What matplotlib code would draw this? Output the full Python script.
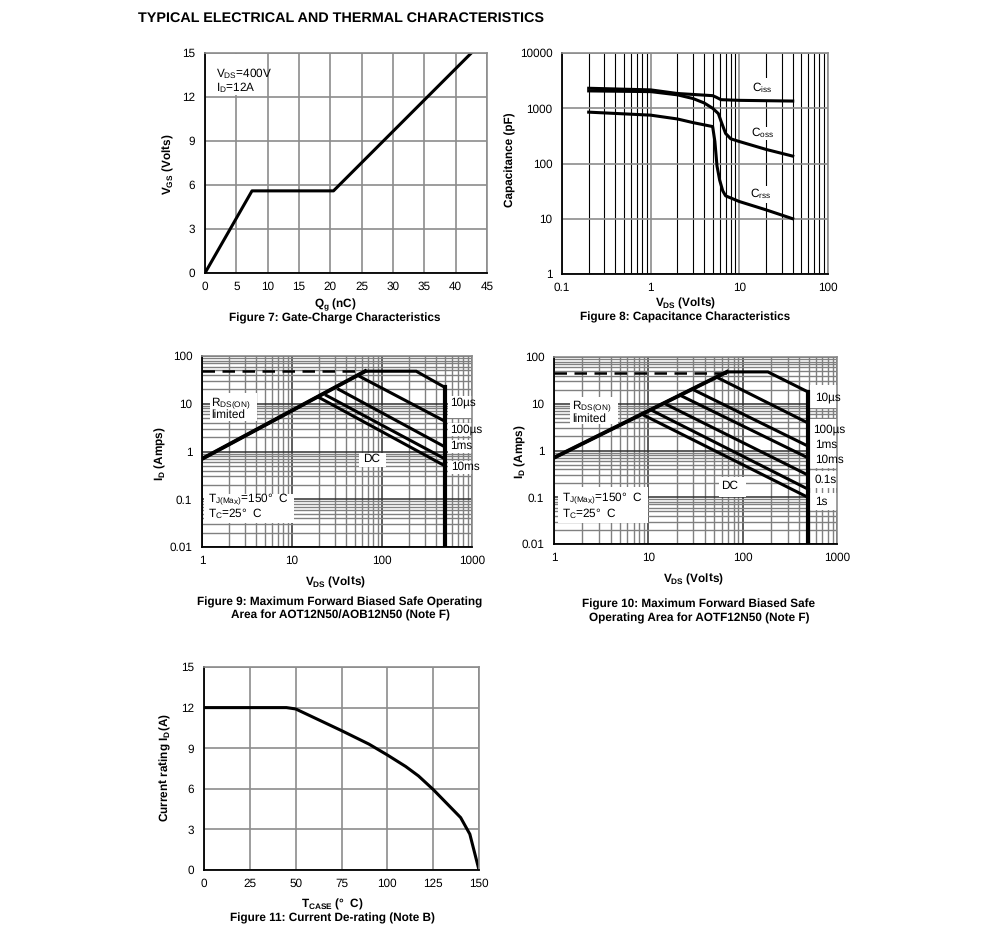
import matplotlib
matplotlib.use('Agg')
import matplotlib.pyplot as plt
from matplotlib.patches import Rectangle
from matplotlib.ticker import FixedLocator, NullFormatter, FixedFormatter

plt.rcParams['font.family'] = ['Liberation Sans', 'DejaVu Sans']
plt.rcParams['mathtext.fontset'] = 'custom'
plt.rcParams['mathtext.rm'] = 'Liberation Sans'
plt.rcParams['mathtext.bf'] = 'Liberation Sans:bold'
plt.rcParams['mathtext.it'] = 'Liberation Sans:italic'
plt.rcParams['mathtext.default'] = 'regular'
plt.rcParams['text.hinting'] = 'none'

W, H = 991, 933
GRID = '#8c8c8c'

# Figure 7
qg = [0, 7.5, 20.5, 42.5]
vgs = [0, 5.6, 5.6, 15]
# Figure 8
vds_ciss = [0.2, 1, 2, 5, 5.5, 6.2, 10, 40]
ciss = [2300, 2150, 1850, 1690, 1580, 1430, 1390, 1350]
vds_coss = [0.2, 1, 2, 3, 4, 5, 5.8, 6.3, 7, 8, 10, 20, 40]
coss = [2060, 2000, 1750, 1500, 1250, 1000, 800, 550, 350, 280, 250, 180, 136]
vds_crss = [0.2, 1, 2, 3, 5, 5.3, 5.6, 6, 6.5, 7, 10, 20, 40]
crss = [850, 750, 640, 550, 466, 250, 90, 50, 32, 26, 20.5, 14.5, 10]
# Figure 9
f9_env_v = [1, 65, 240, 500, 500]
f9_env_i = [0.7, 48, 48, 22, 0.01]
f9_dash_v = [1, 65]
f9_dash_i = [48, 48]
f9_100us = ([57, 500], [37, 4.3])
f9_1ms = ([33, 500], [20, 1.25])
f9_10ms = ([24, 500], [15, 0.7])
f9_dc = ([20, 500], [13.5, 0.5])
# Figure 10
f10_env_v = [1, 68, 185, 490, 490]
f10_env_i = [0.7, 48, 48, 18, 0.01]
f10_dash_v = [1, 68]
f10_dash_i = [46, 46]
f10_100us = ([53, 490], [37, 3.9])
f10_1ms = ([30, 490], [20, 1.25])
f10_10ms = ([22, 490], [15, 0.7])
f10_01s = ([15, 490], [10, 0.3])
f10_1s = ([10.5, 490], [7.5, 0.15])
f10_dc = ([8.5, 490], [6, 0.1])
# Figure 11
tcase = [0, 45, 50, 75, 90, 100, 110, 117, 125, 132, 140, 145, 150]
rating = [12, 12, 11.9, 10.3, 9.3, 8.5, 7.65, 6.95, 5.95, 4.98, 3.87, 2.65, 0]

fig = plt.figure(figsize=(W / 100, H / 100), dpi=100)


def px_axes(x0, x1, y0, y1):
    ax = fig.add_axes([x0 / W, 1 - y1 / H, (x1 - x0) / W, (y1 - y0) / H])
    ax.tick_params(which='both', length=0, labelsize=8.5)
    ax.tick_params(axis='y', which='both', pad=7)
    ax.tick_params(axis='x', which='both', pad=6)
    for s in ('top', 'right'):
        ax.spines[s].set_color(GRID)
        ax.spines[s].set_linewidth(1.2)
    for s in ('left', 'bottom'):
        ax.spines[s].set_color('black')
        ax.spines[s].set_linewidth(1.3)
    ax.set_axisbelow(True)
    return ax


def ptext(x, y, s, **kw):
    kw.setdefault('fontsize', 8.5)
    kw.setdefault('ha', 'center')
    kw.setdefault('va', 'center')
    return fig.text(x / W, 1 - y / H, s, **kw)


def blank(ax, x0, x1, y0, y1):
    ax.add_patch(Rectangle((x0 / W, 1 - y1 / H), (x1 - x0) / W, (y1 - y0) / H,
                           transform=fig.transFigure, fc='white', ec='none',
                           zorder=1.5, clip_on=False))


LW = 2.2
fig.text(138 / W, 1 - 18.5 / H, 'TYPICAL ELECTRICAL AND THERMAL CHARACTERISTICS',
         fontsize=10.4, fontweight='bold', ha='left', va='center')

# ---- Figure 7
ax = px_axes(205, 487, 53, 273)
ax.set_xlim(0, 45)
ax.set_ylim(0, 15)
ax.set_xticks(range(0, 46, 5))
ax.set_yticks(range(0, 16, 3))
ax.grid(True, color=GRID, lw=1.2)
blank(ax, 213, 263, 54, 95)
ax.plot(qg, vgs, color='black', lw=LW)
ptext(216, 73.5, '$V_{DS}$=400V', ha='left')
ptext(216, 88, '$I_D$=12A', ha='left')
ptext(335, 304.5, '$Q_g$ (nC)', fontweight='bold')
ptext(335, 318, 'Figure 7: Gate-Charge Characteristics', fontweight='bold')
ptext(168, 164, '$V_{GS}$ (Volts)', rotation=90, fontweight='bold')

# ---- Figure 8
ax = px_axes(562, 828, 53, 274)
ax.set_xscale('log')
ax.set_yscale('log')
ax.set_xlim(0.1, 100)
ax.set_ylim(1, 10000)
ax.xaxis.set_major_locator(FixedLocator([0.1, 1, 10, 100]))
ax.xaxis.set_major_formatter(FixedFormatter(['0.1', '1', '10', '100']))
ax.yaxis.set_major_locator(FixedLocator([1, 10, 100, 1000, 10000]))
ax.yaxis.set_major_formatter(FixedFormatter(['1', '10', '100', '1000', '10000']))
ax.xaxis.set_minor_locator(FixedLocator([m * d for d in (0.1, 1, 10) for m in range(2, 10)]))
ax.xaxis.set_minor_formatter(NullFormatter())
ax.yaxis.set_minor_locator(FixedLocator([]))
ax.grid(True, which='major', color=GRID, lw=1.2)
ax.grid(True, which='minor', axis='x', color='black', lw=0.8)
blank(ax, 749, 775, 78, 100)
blank(ax, 750, 775, 127, 140)
blank(ax, 749, 775, 186, 203)
ax.plot(vds_ciss, ciss, color='black', lw=LW)
ax.plot(vds_coss, coss, color='black', lw=LW)
ax.plot(vds_crss, crss, color='black', lw=LW)
ptext(762, 88, '$C_{iss}$')
ptext(763, 133, '$C_{oss}$')
ptext(761, 194, '$C_{rss}$')
ptext(685, 303.5, '$V_{DS}$ (Volts)', fontweight='bold')
ptext(685, 317, 'Figure 8: Capacitance Characteristics', fontweight='bold')
ptext(510, 160, 'Capacitance (pF)', rotation=90, fontweight='bold')


def soa_axes(x0, x1, y0, y1):
    ax = px_axes(x0, x1, y0, y1)
    ax.set_xscale('log')
    ax.set_yscale('log')
    ax.set_xlim(1, 1000)
    ax.set_ylim(0.01, 100)
    ax.xaxis.set_major_locator(FixedLocator([1, 10, 100, 1000]))
    ax.xaxis.set_major_formatter(FixedFormatter(['1', '10', '100', '1000']))
    ax.yaxis.set_major_locator(FixedLocator([0.01, 0.1, 1, 10, 100]))
    ax.yaxis.set_major_formatter(FixedFormatter(['0.01', '0.1', '1', '10', '100']))
    ax.xaxis.set_minor_locator(FixedLocator([m * d for d in (1, 10, 100) for m in range(2, 10)]))
    ax.yaxis.set_minor_locator(FixedLocator([m * d for d in (0.01, 0.1, 1, 10) for m in range(2, 10)]))
    ax.xaxis.set_minor_formatter(NullFormatter())
    ax.yaxis.set_minor_formatter(NullFormatter())
    ax.grid(True, which='major', color='#303030', lw=1.1)
    ax.grid(True, which='minor', color='#808080', lw=1.0)
    return ax


# ---- Figure 9
ax = soa_axes(202, 472, 356, 547)
blank(ax, 210, 257, 393, 421)
blank(ax, 359, 386, 453, 467)
blank(ax, 204, 294, 494, 523)
for y0, y1 in ((396, 418), (423, 436), (440, 453), (461, 474)):
    blank(ax, 448, 475, y0, y1)
ax.plot(f9_env_v, f9_env_i, color='black', lw=LW, solid_joinstyle='miter')
ax.plot(f9_env_v[-2:], f9_env_i[-2:], color='black', lw=3)
ax.plot(f9_env_v[:2], f9_env_i[:2], color='black', lw=2.8)
ax.plot(f9_dash_v, f9_dash_i, color='black', lw=1.8, dashes=(5, 3))
for v, i in (f9_100us, f9_1ms, f9_10ms, f9_dc):
    ax.plot(v, i, color='black', lw=LW)
ptext(211, 403, '$R_{DS(ON)}$', ha='left')
ptext(211, 415, 'limited', ha='left')
ptext(372, 459, 'DC')
ptext(208, 499.5, '$T_{J(Max)}$=150°  C', ha='left')
ptext(208, 514, '$T_C$=25°  C', ha='left')
for y, x, s in ((402, 450, '10µs'), (429, 450, '100µs'), (446, 450, '1ms'), (467, 451, '10ms')):
    ptext(x, y, s, ha='left')
ptext(335, 582, '$V_{DS}$ (Volts)', fontweight='bold')
ptext(340, 602, 'Figure 9: Maximum Forward Biased Safe Operating', fontweight='bold')
ptext(340, 615, 'Area for AOT12N50/AOB12N50 (Note F)', fontweight='bold')
ptext(160, 454, '$I_D$ (Amps)', rotation=90, fontweight='bold')

# ---- Figure 10
ax = soa_axes(554, 837, 357, 544)
blank(ax, 570, 618, 397, 424)
blank(ax, 719, 746, 477, 497)
blank(ax, 558, 648, 487, 523)
for y0, y1 in ((385, 408), (419, 468), (471, 488), (493, 510)):
    blank(ax, 810, 838, y0, y1)
ax.plot(f10_env_v, f10_env_i, color='black', lw=LW, solid_joinstyle='miter')
ax.plot(f10_env_v[-2:], f10_env_i[-2:], color='black', lw=3)
ax.plot(f10_env_v[:2], f10_env_i[:2], color='black', lw=2.8)
ax.plot(f10_dash_v, f10_dash_i, color='black', lw=1.8, dashes=(5, 3))
for v, i in (f10_100us, f10_1ms, f10_10ms, f10_01s, f10_1s, f10_dc):
    ax.plot(v, i, color='black', lw=LW)
ptext(572, 406, '$R_{DS(ON)}$', ha='left')
ptext(572, 418.5, 'limited', ha='left')
ptext(730, 486, 'DC')
ptext(562, 498, '$T_{J(Max)}$=150°  C', ha='left')
ptext(562, 514, '$T_C$=25°  C', ha='left')
for y, x, s in ((397, 815, '10µs'), (429, 813, '100µs'), (445, 815, '1ms'),
                (460, 815, '10ms'), (480, 815, '0.1s'), (502, 815, '1s')):
    ptext(x, y, s, ha='left')
ptext(693, 579, '$V_{DS}$ (Volts)', fontweight='bold')
ptext(699, 604, 'Figure 10: Maximum Forward Biased Safe', fontweight='bold')
ptext(699, 618, 'Operating Area for AOTF12N50 (Note F)', fontweight='bold')
ptext(520, 452, '$I_D$ (Amps)', rotation=90, fontweight='bold')

# ---- Figure 11
ax = px_axes(204, 479, 667, 870)
ax.set_xlim(0, 150)
ax.set_ylim(0, 15)
ax.set_xticks(range(0, 151, 25))
ax.set_yticks(range(0, 16, 3))
ax.grid(True, color=GRID, lw=1.2)
ax.plot(tcase, rating, color='black', lw=LW)
ptext(332, 904.5, '$T_{CASE}$ (°  C)', fontweight='bold')
ptext(332, 918.5, 'Figure 11: Current De-rating (Note B)', fontweight='bold')
ptext(165, 768, 'Current rating $I_D$(A)', rotation=90, fontweight='bold')

fig.savefig('out.png', dpi=100)
